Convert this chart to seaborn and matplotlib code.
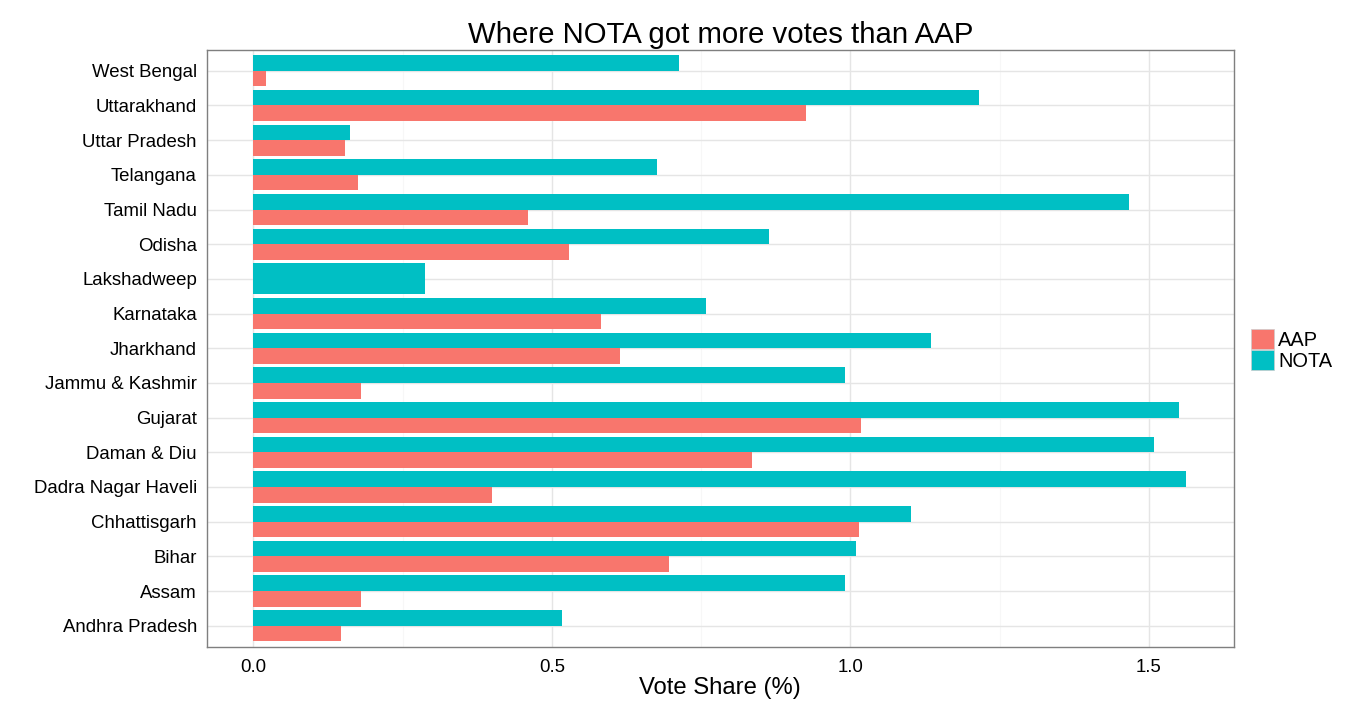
import numpy as np
import pandas as pd
import matplotlib
matplotlib.use("Agg")
import matplotlib.pyplot as plt
from matplotlib.patches import Patch
from matplotlib.ticker import MultipleLocator
import seaborn as sns

states = ["West Bengal", "Uttarakhand", "Uttar Pradesh", "Telangana", "Tamil Nadu",
          "Odisha", "Lakshadweep", "Karnataka", "Jharkhand", "Jammu & Kashmir",
          "Gujarat", "Daman & Diu", "Dadra Nagar Haveli", "Chhattisgarh", "Bihar",
          "Assam", "Andhra Pradesh"]
nota = [0.713, 1.215, 0.162, 0.676, 1.466, 0.864, 0.288, 0.758, 1.135, 0.991,
        1.551, 1.508, 1.563, 1.101, 1.009, 0.991, 0.517]
aap = [0.022, 0.925, 0.154, 0.176, 0.460, 0.529, np.nan, 0.582, 0.614, 0.181,
       1.018, 0.835, 0.400, 1.014, 0.696, 0.181, 0.147]
parties = ["AAP", "NOTA"]
colors = {"AAP": "#F8766D", "NOTA": "#00BFC4"}

sns.set_style("white")
plt.rcParams["font.family"] = ["Liberation Sans", "DejaVu Sans"]
plt.rcParams["text.color"] = "black"
plt.rcParams["axes.labelcolor"] = "black"

df = pd.DataFrame({"state": states, "NOTA": nota, "AAP": aap})
long = df.melt(id_vars="state", value_vars=parties, var_name="party", value_name="share")
both = df.dropna()
single = df[df["AAP"].isna()]
long_both = long[long["state"].isin(both["state"])]

fig = plt.figure(figsize=(13.66, 7.06), dpi=100)
ax = fig.add_axes([206.7 / 1366, 1 - 646.5 / 706, (1234 - 206.7) / 1366, (646.5 - 50) / 706])

sns.barplot(data=long_both, y="state", x="share", hue="party", order=states,
            hue_order=["NOTA", "AAP"], palette=colors, width=0.9, dodge=True,
            saturation=1, errorbar=None, legend=False, linewidth=0, ax=ax)
sns.barplot(data=single, y="state", x="NOTA", order=states, color=colors["NOTA"],
            width=0.9, saturation=1, errorbar=None, linewidth=0, ax=ax)

ax.set_xlim(-0.078, 1.6427)
ax.set_ylim(len(states) - 0.4, -0.6)
ax.xaxis.set_major_locator(MultipleLocator(0.5))
ax.xaxis.set_minor_locator(MultipleLocator(0.25))
ax.set_xticks([0, 0.5, 1.0, 1.5])
ax.set_xticklabels(["0.0", "0.5", "1.0", "1.5"])
ax.set_axisbelow(True)
ax.grid(True, which="major", axis="both", color="#E5E5E5", linewidth=1.0)
ax.grid(True, which="minor", axis="x", color="#F7F7F7", linewidth=0.8)
for s in ax.spines.values():
    s.set_color("#7F7F7F")
    s.set_linewidth(1.0)
ax.tick_params(axis="both", which="major", length=4, width=1, color="#333333",
               labelsize=13.4, labelcolor="black")
ax.tick_params(axis="x", which="minor", length=0)
ax.tick_params(axis="x", pad=5)
ax.tick_params(axis="y", pad=3)
ax.set_ylabel("")
ax.set_xlabel("Vote Share (%)", fontsize=17.2, labelpad=1, color="black")
ax.set_title("Where NOTA got more votes than AAP", fontsize=21.2, pad=5, color="black")

handles = [Patch(facecolor=colors[p], edgecolor="#CCCCCC", linewidth=0.5) for p in parties]
fig.legend(handles, parties, loc="center left", bbox_to_anchor=(1251 / 1366, 1 - 350 / 706),
           frameon=False, fontsize=14.4, handlelength=1.15, handleheight=1.15,
           labelspacing=0.0, handletextpad=0.2, borderpad=0, borderaxespad=0)

fig.savefig("out.png", dpi=100)
